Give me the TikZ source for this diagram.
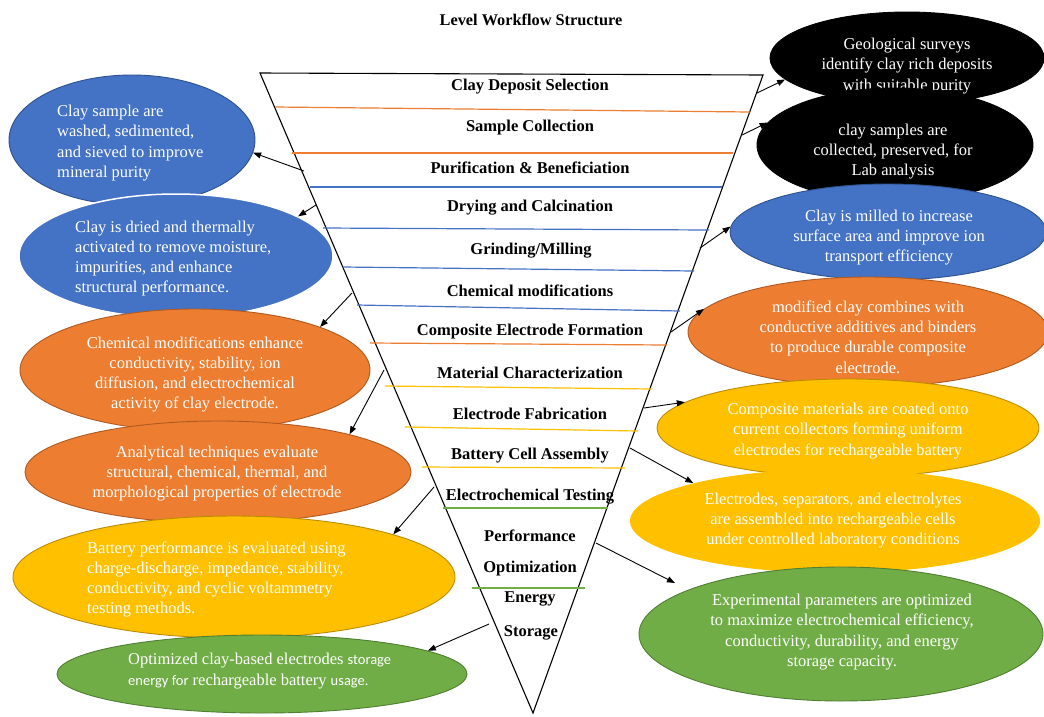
\documentclass[tikz,border=0pt]{standalone}
\usepackage{fontspec}
\setmainfont{Liberation Serif}
\newfontfamily\calfont{Carlito}
\usetikzlibrary{shapes.geometric,arrows.meta}

\definecolor{cblue}{HTML}{4472C4}
\definecolor{cblueD}{HTML}{2F528F}
\definecolor{corange}{HTML}{ED7D31}
\definecolor{corangeD}{HTML}{AE5A21}
\definecolor{cyellow}{HTML}{FFC000}
\definecolor{cyellowD}{HTML}{BC8C00}
\definecolor{cgreen}{HTML}{70AD47}
\definecolor{cgreenD}{HTML}{507E32}

\newcommand{\smallsans}[1]{{\calfont\fontsize{14.5}{20.3}\selectfont #1}}

\tikzset{
  blob/.style={ellipse, inner sep=0pt, line width=0.9pt},
  bluebl/.style={blob, fill=cblue, draw=cblueD},
  orangebl/.style={blob, fill=corange, draw=corangeD},
  yellowbl/.style={blob, fill=cyellow, draw=cyellowD},
  greenbl/.style={blob, fill=cgreen, draw=cgreenD},
  blackbl/.style={blob, fill=black, draw=black},
  txt/.style={text=white, inner sep=0pt, font=\fontsize{16.5}{20.3}\selectfont},
  stage/.style={inner sep=0pt, font=\bfseries\fontsize{16.5}{18}\selectfont},
  sepline/.style={line width=1.2pt},
  arr/.style={-{Triangle[length=8pt,width=6pt]}, line width=0.9pt},
}

\begin{document}
\begin{tikzpicture}[x=1pt, y=-1pt]
\useasboundingbox (0,0) rectangle (1044,716);

% title
\node[stage, font=\bfseries\fontsize{16.3}{18}\selectfont] (title) at (531,20) {Level Workflow Structure};

% funnel outline
\coordinate (TL) at (260,73);
\coordinate (TR) at (763,75);
\coordinate (AP) at (533,713);
\draw[line width=1.1pt] (TL) -- (TR) -- (AP) -- cycle;

% stage separators
\draw[sepline, corange] (275,107) -- (750,112);
\draw[sepline, corange] (292,153) -- (733,153);
\draw[sepline, cblue]   (310,187) -- (722,187);
\draw[sepline, cblue]   (323,228) -- (709,230);
\draw[sepline, cblue]   (343,267) -- (694,271);
\draw[sepline, cblue]   (357,305) -- (680,311);
\draw[sepline, corange] (370,343) -- (667,345);
\draw[sepline, cyellow] (385,386) -- (652,389);
\draw[sepline, cyellow] (405,427) -- (638,431);
\draw[sepline, cyellow] (422,467) -- (625,468);
\draw[sepline, cgreen]  (443,508) -- (608,508);
\draw[sepline, cgreen]  (472,588) -- (585,588);

% stage labels
\node[stage] (p1)  at (530,87)  {Clay Deposit Selection};
\node[stage] (p2)  at (530,128) {Sample Collection};
\node[stage] (p3)  at (530,168) {Purification \& Beneficiation};
\node[stage] (p4)  at (530,208) {Drying and Calcination};
\node[stage] (p5)  at (531,251) {Grinding/Milling};
\node[stage] (p6)  at (530,291) {Chemical modifications};
\node[stage] (p7)  at (530,332) {Composite Electrode Formation};
\node[stage] (p8)  at (530,373) {Material Characterization};
\node[stage] (p9)  at (530,414) {Electrode Fabrication};
\node[stage] (p10) at (530,456) {Battery Cell Assembly};
\node[stage] (p11) at (530,497) {Electrochemical Testing};
\node[stage] (p12a) at (530,536) {Performance};
\node[stage] (p12b) at (530,569) {Optimization};
\node[stage] (p13a) at (530,599) {Energy};
\node[stage] (p13b) at (531,633) {Storage};

% left-hand descriptions
\node[bluebl, minimum width=246pt, minimum height=130pt] (L1) at (132,140) {};
\node[txt, align=left, anchor=west] (L1t) at (57,143)
  {Clay sample are\\washed, sedimented,\\and sieved to improve\\mineral purity};

\node[bluebl, draw=white, line width=1.5pt, minimum width=314pt, minimum height=124pt] (L2) at (176,256) {};
\node[txt, align=left, anchor=west] (L2t) at (75,258.5)
  {Clay is dried and thermally\\activated to remove moisture,\\impurities, and enhance\\structural performance.};

\node[orangebl, minimum width=350pt, minimum height=122pt] (L3) at (195,370) {};
\node[txt, align=center] (L3t) at (195,374.5)
  {Chemical modifications enhance\\conductivity, stability, ion\\diffusion, and electrochemical\\activity of clay electrode.};

\node[orangebl, minimum width=386pt, minimum height=102pt] (L4) at (218,472) {};
\node[txt, align=center] (L4t) at (217,473.5)
  {Analytical techniques evaluate\\structural, chemical, thermal, and\\morphological properties of electrode};

\node[yellowbl, minimum width=442pt, minimum height=122pt] (L5) at (234,577) {};
\node[txt, align=left, anchor=west] (L5t) at (87,579.5)
  {Battery performance is evaluated using\\charge-discharge, impedance, stability,\\conductivity, and cyclic voltammetry\\testing methods.};

\node[greenbl, minimum width=410pt, minimum height=78pt] (L6) at (262,674) {};
\node[txt, align=left, anchor=west] (L6t) at (128,671)
  {Optimized clay-based electrodes \smallsans{storage}\\\smallsans{energy for} rechargeable battery \smallsans{usage.}};

% right-hand descriptions
\node[blackbl, minimum width=274pt, minimum height=92pt] (R1) at (907,58) {};
\node[txt, align=center] (R1t) at (907,66)
  {Geological surveys\\identify clay rich deposits\\with suitable purity};

\node[blackbl, minimum width=276pt, minimum height=114pt] (R2) at (895,145) {};
\node[txt, align=center] (R2t) at (893,151.5)
  {clay samples are\\collected, preserved, for\\Lab analysis};

\node[bluebl, minimum width=316pt, minimum height=96pt] (R3) at (888,232) {};
\node[txt, align=center] (R3t) at (889,237.5)
  {Clay is milled to increase\\surface area and improve ion\\transport efficiency};

\node[orangebl, minimum width=360pt, minimum height=110pt] (R4) at (868,332) {};
\node[txt, align=center] (R4t) at (868,337)
  {modified clay combines with\\conductive additives and binders\\to produce durable composite\\electrode.};

\node[yellowbl, minimum width=382pt, minimum height=98pt] (R5) at (848,428) {};
\node[txt, align=center] (R5t) at (848,431)
  {Composite materials are coated onto\\current collectors forming uniform\\electrodes for rechargeable battery};

\node[blob, fill=cyellow, minimum width=410pt, minimum height=104pt] (R6) at (835,521) {};
\node[txt, align=center] (R6t) at (833,520.5)
  {Electrodes, separators, and electrolytes\\are assembled into rechargeable cells\\under controlled laboratory conditions};

\node[greenbl, minimum width=404pt, minimum height=134pt] (R7) at (841,634) {};
\node[txt, align=center] (R7t) at (842,632)
  {Experimental parameters are optimized\\to maximize electrochemical efficiency,\\conductivity, durability, and energy\\storage capacity.};

% connectors from the funnel edges
\coordinate (s1) at (304,171);
\coordinate (s2) at (316,205);
\coordinate (s3) at (352,293);
\coordinate (s4) at (384,370);
\coordinate (s5) at (434,487);
\coordinate (s6) at (489,624);
\coordinate (t1) at (757,93);
\coordinate (t2) at (742,135);
\coordinate (t3) at (700,248);
\coordinate (t4) at (671,332);
\coordinate (t5) at (644,408);
\coordinate (t6) at (630,448);
\coordinate (t7) at (596,543);
\coordinate (e7) at (675,583);

\draw[arr] (s1) -- (L1.-6);
\draw[arr] (s2) -- (L2.18);
\draw[arr] (s3) -- (L3.19);
\draw[arr] (s4) -- (L4.16);
\draw[arr] (s5) -- (L5.15);
\draw[arr] (s6) -- (L6.8);
\draw[arr] (t1) -- (R1.-170);
\draw[arr] (t2) -- (R2.170);
\draw[arr] (t3) -- (R3.178);
\draw[arr] (t4) -- (R4.172);
\draw[arr] (t5) -- (R5.171);
\draw[arr] (t6) -- (R6.165);
\draw[arr] (t7) -- (e7);
\end{tikzpicture}
\end{document}
